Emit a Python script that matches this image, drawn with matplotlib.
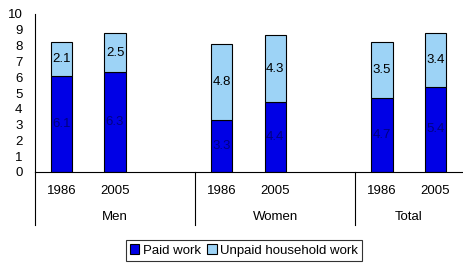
import numpy as np
import matplotlib.pyplot as plt
import matplotlib.transforms as mtransforms

plt.rcParams['font.family'] = ['Liberation Sans', 'DejaVu Sans']

groups = ['Men', 'Women', 'Total']
years = ['1986', '2005']
paid = [6.1, 6.3, 3.3, 4.4, 4.7, 5.4]
unpaid = [2.1, 2.5, 4.8, 4.3, 3.5, 3.4]

paid_col = '#0000E6'
unpaid_col = '#9DD3F6'
fs = 9.5

fig = plt.figure(figsize=(4.64, 2.67), dpi=100)
ax = fig.add_axes([35 / 464, 95 / 267, 427 / 464, 158 / 267])

# 3 slots per group, last one empty except for the final group
xpos = np.array([0, 1, 3, 4, 6, 7])
w = 0.4
ax.bar(xpos, paid, w, color=paid_col, edgecolor='black', linewidth=0.8, label='Paid work')
ax.bar(xpos, unpaid, w, bottom=paid, color=unpaid_col, edgecolor='black', linewidth=0.8,
       label='Unpaid household work')

for x, p, u in zip(xpos, paid, unpaid):
    ax.text(x, p / 2, f'{p:.1f}', ha='center', va='center', fontsize=fs, color='#000080')
    ax.text(x, p + u / 2, f'{u:.1f}', ha='center', va='center', fontsize=fs, color='black')

ax.set_xlim(-0.5, 7.5)
ax.set_ylim(0, 10)
ax.set_yticks(range(11))
ax.tick_params(axis='y', length=0, labelsize=fs, pad=9)
ax.set_xticks([])
for s in ['top', 'right']:
    ax.spines[s].set_visible(False)
ax.spines['left'].set_linewidth(0.8)
ax.spines['bottom'].set_linewidth(0.8)

trans = mtransforms.blended_transform_factory(ax.transData, ax.transAxes)
for i, x in enumerate(xpos):
    ax.text(x, -0.12, years[i % 2], transform=trans,
            ha='center', va='center', fontsize=fs)
for i, g in enumerate(groups):
    right = min(i * 3 + 2.5, 7.5)
    ax.text((i * 3 - 0.5 + right) / 2, -0.285, g, transform=trans,
            ha='center', va='center', fontsize=fs)
for x in [-0.5, 2.5, 5.5]:
    ax.plot([x, x], [0, -0.335], transform=trans, color='black', lw=0.8, clip_on=False)

leg = fig.legend(loc='center', bbox_to_anchor=(244 / 464, 16.5 / 267), ncol=2,
                 fontsize=fs, frameon=True, fancybox=False, edgecolor='black',
                 handlelength=0.7, handleheight=0.7, handletextpad=0.25,
                 columnspacing=0.5, borderpad=0.3, borderaxespad=0)
leg.get_frame().set_linewidth(0.8)

fig.savefig('out.png', dpi=100)
